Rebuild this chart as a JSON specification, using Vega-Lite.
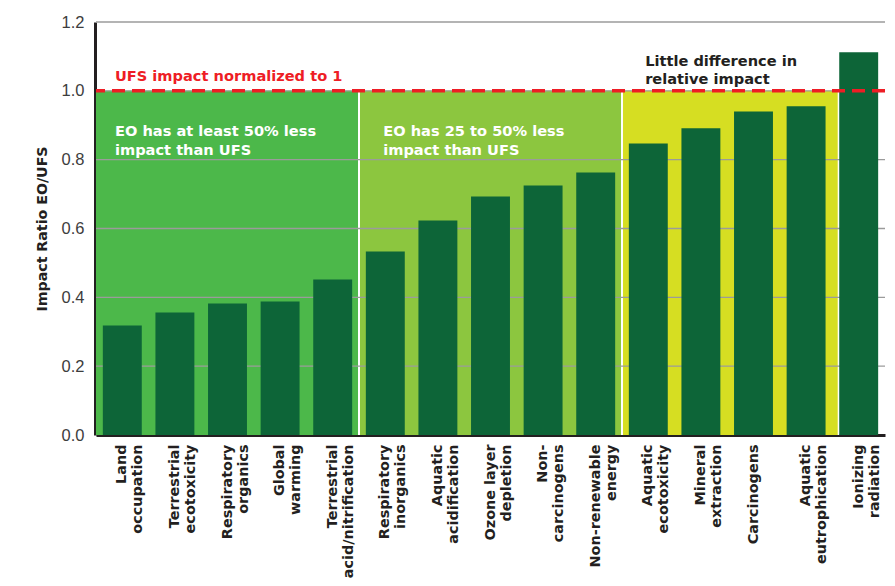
{
  "$schema": "https://vega.github.io/schema/vega-lite/v6.json",
  "width": 789,
  "height": 413,
  "autosize": {"type": "none"},
  "padding": {"left": 96, "top": 22, "right": 10, "bottom": 151},
  "background": "#ffffff",
  "config": {"view": {"stroke": null}, "font": "Liberation Sans"},
  "datasets": {
    "impacts": [
      {"category": "Land\noccupation", "ratio": 0.318},
      {"category": "Terrestrial\necotoxicity", "ratio": 0.356},
      {"category": "Respiratory\norganics", "ratio": 0.382},
      {"category": "Global\nwarming", "ratio": 0.388},
      {"category": "Terrestrial\nacid/nitrification", "ratio": 0.452},
      {"category": "Respiratory\ninorganics", "ratio": 0.533},
      {"category": "Aquatic\nacidification", "ratio": 0.623},
      {"category": "Ozone layer\ndepletion", "ratio": 0.693},
      {"category": "Non-\ncarcinogens", "ratio": 0.725},
      {"category": "Non-renewable\nenergy", "ratio": 0.763},
      {"category": "Aquatic\necotoxicity", "ratio": 0.847},
      {"category": "Mineral\nextraction", "ratio": 0.891},
      {"category": "Carcinogens", "ratio": 0.94},
      {"category": "Aquatic\neutrophication", "ratio": 0.955},
      {"category": "Ionizing\nradiation", "ratio": 1.112}
    ],
    "regions": [
      {"zone": "at least 50% less", "start": 0, "end": 5, "bottom": 0, "top": 1},
      {"zone": "25 to 50% less", "start": 5, "end": 10, "bottom": 0, "top": 1},
      {"zone": "little difference", "start": 10, "end": 14.12, "bottom": 0, "top": 1}
    ],
    "separators": [{"pos": 5, "bottom": 0, "top": 1}, {"pos": 10, "bottom": 0, "top": 1}, {"pos": 14.12, "bottom": 0, "top": 1}],
    "grid": [{"v": 0.2}, {"v": 0.4}, {"v": 0.6}, {"v": 0.8}, {"v": 1.0}, {"v": 1.2}],
    "reference": [{"v": 1.0}],
    "redNote": [{"x": 0.36, "y": 1.039, "label": "UFS impact normalized to 1"}],
    "whiteNotes": [
      {"x": 0.36, "y": 0.881, "label": "EO has at least 50% less\nimpact than UFS"},
      {"x": 5.46, "y": 0.881, "label": "EO has 25 to 50% less\nimpact than UFS"}
    ],
    "darkNote": [{"x": 10.44, "y": 1.085, "label": "Little difference in\nrelative impact"}]
  },
  "layer": [
    {
      "data": {"name": "regions"},
      "mark": {"type": "rect"},
      "encoding": {
        "x": {"field": "start", "type": "quantitative", "scale": {"domain": [0, 15], "nice": false, "zero": false}, "axis": null},
        "x2": {"field": "end"},
        "y": {"field": "bottom", "type": "quantitative", "title": "Impact Ratio EO/UFS", "scale": {"domain": [0, 1.2], "nice": false}},
        "y2": {"field": "top"},
        "color": {
          "field": "zone", "type": "nominal",
          "scale": {"domain": ["at least 50% less", "25 to 50% less", "little difference"], "range": ["#4cb84a", "#8cc63f", "#d6de22"]},
          "legend": null
        }
      }
    },
    {
      "data": {"name": "separators"},
      "mark": {"type": "rule", "color": "#ffffff", "strokeWidth": 2},
      "encoding": {
        "x": {"field": "pos", "type": "quantitative", "scale": {"domain": [0, 15], "nice": false, "zero": false}, "axis": null},
        "y": {"field": "bottom", "type": "quantitative", "title": "Impact Ratio EO/UFS"},
        "y2": {"field": "top"}
      }
    },
    {
      "data": {"name": "grid"},
      "mark": {"type": "rule", "color": "#9b9b9b", "strokeWidth": 1.3},
      "encoding": {
        "y": {"field": "v", "type": "quantitative", "title": "Impact Ratio EO/UFS"}
      }
    },
    {
      "data": {"name": "impacts"},
      "mark": {"type": "bar", "color": "#0d6538"},
      "encoding": {
        "x": {
          "field": "category", "type": "nominal", "sort": null,
          "scale": {"paddingInner": 0.26, "paddingOuter": 0.13},
          "axis": {
            "title": null,
            "labelExpr": "split(datum.value, '\\n')",
            "labelAngle": -90,
            "labelAlign": "right",
            "labelBaseline": "middle",
            "labelFont": "DejaVu Sans",
            "labelFontWeight": "bold",
            "labelFontSize": 14.4,
            "labelLineHeight": 16,
            "labelColor": "#231f20",
            "labelPadding": 9,
            "ticks": false,
            "domainColor": "#231f20",
            "domainWidth": 3,
            "labelLimit": 300
          }
        },
        "y": {
          "field": "ratio", "type": "quantitative",
          "title": "Impact Ratio EO/UFS",
          "axis": {
            "title": "Impact Ratio EO/UFS",
            "titleFont": "DejaVu Sans",
            "titleFontSize": 14.2,
            "titleFontWeight": "bold",
            "titleColor": "#231f20",
            "titlePadding": 12,
            "values": [0, 0.2, 0.4, 0.6, 0.8, 1.0, 1.2],
            "format": ".1f",
            "labelFontSize": 16.5,
            "labelColor": "#3d3d3d",
            "labelPadding": 11,
            "ticks": false,
            "grid": false,
            "domainColor": "#231f20",
            "domainWidth": 3,
            "offset": 1
          }
        }
      }
    },
    {
      "data": {"name": "reference"},
      "mark": {"type": "rule", "color": "#ee1d25", "strokeWidth": 3.5, "strokeDash": [13, 7]},
      "encoding": {
        "y": {"field": "v", "type": "quantitative", "title": "Impact Ratio EO/UFS"}
      }
    },
    {
      "data": {"name": "redNote"},
      "mark": {"type": "text", "align": "left", "baseline": "middle", "font": "DejaVu Sans", "fontWeight": "bold", "fontSize": 14.6, "color": "#ee1d25"},
      "encoding": {
        "x": {"field": "x", "type": "quantitative", "scale": {"domain": [0, 15], "nice": false, "zero": false}, "axis": null},
        "y": {"field": "y", "type": "quantitative", "title": "Impact Ratio EO/UFS"},
        "text": {"field": "label"}
      }
    },
    {
      "data": {"name": "whiteNotes"},
      "mark": {"type": "text", "align": "left", "baseline": "middle", "font": "DejaVu Sans", "fontWeight": "bold", "fontSize": 14.6, "lineHeight": 19, "lineBreak": "\n", "color": "#ffffff"},
      "encoding": {
        "x": {"field": "x", "type": "quantitative", "scale": {"domain": [0, 15], "nice": false, "zero": false}, "axis": null},
        "y": {"field": "y", "type": "quantitative", "title": "Impact Ratio EO/UFS"},
        "text": {"field": "label"}
      }
    },
    {
      "data": {"name": "darkNote"},
      "mark": {"type": "text", "align": "left", "baseline": "middle", "font": "DejaVu Sans", "fontWeight": "bold", "fontSize": 14.6, "lineHeight": 18, "lineBreak": "\n", "color": "#231f20"},
      "encoding": {
        "x": {"field": "x", "type": "quantitative", "scale": {"domain": [0, 15], "nice": false, "zero": false}, "axis": null},
        "y": {"field": "y", "type": "quantitative", "title": "Impact Ratio EO/UFS"},
        "text": {"field": "label"}
      }
    }
  ],
  "resolve": {"scale": {"x": "independent"}}
}
